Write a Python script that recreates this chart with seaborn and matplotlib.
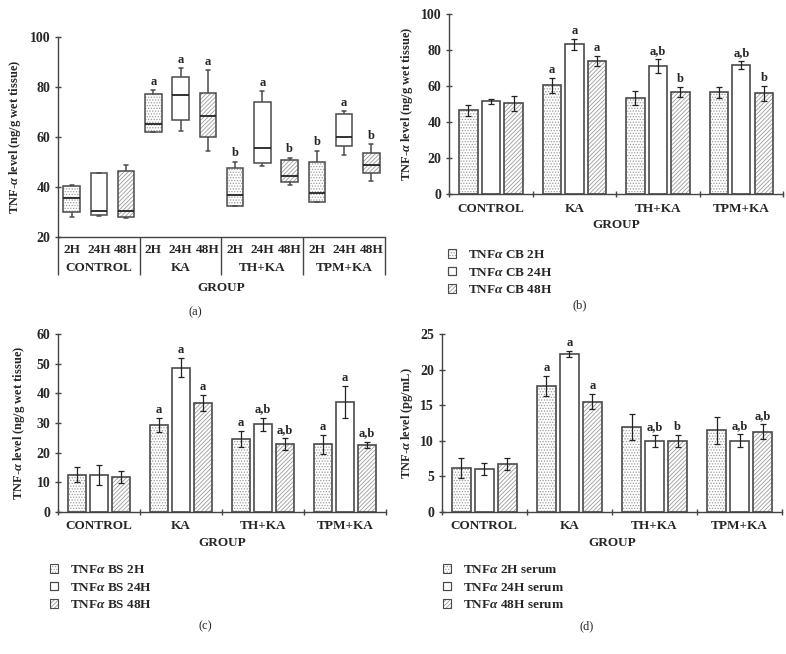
import numpy as np
import pandas as pd
import matplotlib
matplotlib.use("Agg")
import matplotlib.pyplot as plt
import matplotlib.patches as mpatches
import matplotlib.transforms as mtransforms
import seaborn as sns

groups = ["CONTROL", "KA", "TH+KA", "TPM+KA"]
times = ["2H", "24H", "48H"]
hatches = ["......", "", "////////"]

# (a) box plot values, order: group-major, time-minor
a_low = [28.3, 28.4, 27.6, 62.3, 62.7, 54.7, 32.5, 48.4, 40.8, 34.0, 52.9, 42.5]
a_q1 = [30.1, 28.8, 28.3, 62.3, 66.9, 60.0, 32.7, 49.6, 42.3, 34.0, 56.4, 45.6]
a_med = [35.9, 30.4, 30.4, 65.3, 76.8, 68.5, 36.8, 55.6, 44.7, 37.6, 60.0, 48.8]
a_q3 = [40.4, 45.6, 46.7, 77.2, 84.3, 77.7, 47.6, 74.1, 50.8, 50.0, 69.2, 53.6]
a_high = [40.8, 45.9, 48.8, 78.8, 87.6, 86.8, 50.3, 78.4, 51.9, 54.7, 70.5, 57.2]
a_sig = ["", "", "", "a", "a", "a", "b", "a", "b", "b", "a", "b"]

# (b) cerebellum
b_mean = [46.6, 51.6, 50.5, 60.4, 83.2, 74.1, 53.6, 71.0, 56.6, 56.6, 71.5, 56.0]
b_err = [3.0, 1.3, 4.2, 4.0, 3.0, 2.7, 3.8, 3.8, 2.9, 3.0, 2.2, 4.0]
b_sig = ["", "", "", "a", "a", "a", "", "a,b", "b", "", "a,b", "b"]

# (c) brain stem
c_mean = [12.6, 12.4, 11.9, 29.4, 48.7, 36.7, 24.5, 29.6, 22.8, 22.8, 37.1, 22.7]
c_err = [2.6, 3.4, 2.0, 2.3, 3.1, 2.7, 2.7, 2.2, 2.0, 3.1, 5.5, 1.0]
c_sig = ["", "", "", "a", "a", "a", "a", "a,b", "a,b", "a", "a", "a,b"]

# (d) serum
d_mean = [6.2, 6.0, 6.8, 17.7, 22.2, 15.5, 11.9, 10.0, 10.0, 11.5, 10.0, 11.3]
d_err = [1.45, 0.85, 0.85, 1.4, 0.4, 1.05, 1.8, 0.8, 0.8, 1.9, 0.9, 1.03]
d_sig = ["", "", "", "a", "a", "a", "", "a,b", "b", "", "a,b", "a,b"]

sns.set_style("ticks")
plt.rcParams["font.family"] = ["Liberation Serif", "DejaVu Serif"]
plt.rcParams["font.weight"] = "bold"
plt.rcParams["axes.labelweight"] = "bold"
plt.rcParams["mathtext.fontset"] = "custom"
plt.rcParams["mathtext.it"] = "Liberation Serif:italic:bold"
plt.rcParams["mathtext.rm"] = "Liberation Serif:bold"
plt.rcParams["hatch.linewidth"] = 0.6

EDGE = "#4a4a4a"
HATCH = "#9c9c9c"
AXC = "#444444"
FS = 9

fig = plt.figure(figsize=(7.86, 6.54), dpi=100)


def texture(ax, patch, hatch, lw):
    # light hatch fill, then a dark outline drawn on the same path
    patch.set_hatch(hatch)
    patch.set_edgecolor(HATCH if hatch else EDGE)
    if hatch:
        patch.set_linewidth(0)
        outline = mpatches.PathPatch(patch.get_path(), fill=False, edgecolor=EDGE,
                                     linewidth=lw, transform=patch.get_transform(),
                                     zorder=patch.get_zorder() + 0.01)
        ax.add_patch(outline)


def style_axis(ax, yticks, ylabel, label_x):
    sns.despine(ax=ax)
    for s in ["left", "bottom"]:
        ax.spines[s].set_color(AXC)
        ax.spines[s].set_linewidth(1.0)
    ax.set_yticks(yticks)
    ax.set_ylim(yticks[0], yticks[-1])
    ax.tick_params(axis="y", direction="inout", length=5, width=1, color=AXC,
                   labelsize=FS + 1, pad=3)
    for t in ax.get_yticklabels():
        t.set_fontweight("bold")
    ax.set_ylabel(ylabel, fontsize=FS, fontweight="bold")
    ax.yaxis.set_label_coords(label_x, 0.5)


# ---------- (a) box plot ----------
slots = [f"{g} {t}" for g in groups for t in times]
rows = []
for i, s in enumerate(slots):
    for v in [a_low[i], a_q1[i], a_med[i], a_q3[i], a_high[i]]:
        rows.append({"slot": s, "value": v})
df_a = pd.DataFrame(rows)

ax = fig.add_axes([0.0738, 0.6372, 0.416, 0.3058])
sns.boxplot(data=df_a, x="slot", y="value", order=slots, whis=np.inf,
            width=0.6, color="white", linecolor=EDGE, linewidth=1.1,
            medianprops=dict(color="#222222", linewidth=1.3),
            capwidths=0.15, ax=ax)
for i, p in enumerate(list(ax.patches)):
    texture(ax, p, hatches[i % 3], 1.1)
style_axis(ax, [20, 40, 60, 80, 100], r"TNF-$\alpha$ level (ng/g wet tissue)", -0.107)
ax.set_xlim(-0.5, len(slots) - 0.5)
ax.set_xticks(range(len(slots)))
ax.set_xticklabels(times * len(groups), fontsize=FS + 0.5, fontweight="bold")
ax.set_xticks(np.arange(-0.5, len(slots), 3), minor=True)
ax.tick_params(axis="x", which="major", length=0, pad=5)
ax.tick_params(axis="x", which="minor", direction="out", length=27, width=1, color=AXC)
ax.set_xlabel("")
trans = mtransforms.blended_transform_factory(ax.transData, ax.transAxes)
for gi, g in enumerate(groups):
    ax.text(gi * 3 + 1, -0.155, g, transform=trans, ha="center", va="center",
            fontsize=FS + 0.5, fontweight="bold")
ax.text(0.5, -0.255, "GROUP", transform=ax.transAxes, ha="center", va="center",
        fontsize=FS + 0.5, fontweight="bold")
for i, s in enumerate(a_sig):
    if s:
        ax.annotate(s, (i, a_high[i]), xytext=(0, 1.5), textcoords="offset points",
                    ha="center", va="bottom", fontsize=FS, fontweight="bold")
fig.text(195 / 786, 1 - 312 / 654, "(a)", ha="center", va="center", fontsize=FS,
         fontweight="normal")


# ---------- bar panels ----------
def bar_panel(rect, means, errs, sigs, yticks, ylabel, label_x, legend_labels,
              legend_xy, tag, tag_xy):
    df = pd.DataFrame({
        "group": [g for g in groups for _ in times],
        "time": times * len(groups),
        "mean": means,
        "err": errs,
    })
    ax = fig.add_axes(rect)
    sns.barplot(data=df, x="group", y="mean", hue="time", order=groups,
                hue_order=times, palette={t: "white" for t in times},
                edgecolor=EDGE, linewidth=1.2, width=0.81, gap=0.185,
                errorbar=None, legend=False, ax=ax)
    bar_conts = list(ax.containers)
    for hi, cont in enumerate(bar_conts):
        for gi, bar in enumerate(cont):
            texture(ax, bar, hatches[hi], 1.2)
            k = gi * len(times) + hi
            cx = bar.get_x() + bar.get_width() / 2
            top = bar.get_height()
            ax.errorbar(cx, top, yerr=errs[k], color="#222222", elinewidth=0.9,
                        capsize=2.2, capthick=0.9, zorder=5)
            if sigs[k]:
                ax.annotate(sigs[k], (cx, top + errs[k]), xytext=(0, 1.5),
                            textcoords="offset points", ha="center", va="bottom",
                            fontsize=FS, fontweight="bold")
    style_axis(ax, yticks, ylabel, label_x)
    ax.set_xlim(-0.5, len(groups) - 0.5)
    ax.set_xticks(range(len(groups)))
    ax.set_xticklabels(groups, fontsize=FS + 0.5, fontweight="bold")
    ax.set_xticks(np.arange(-0.5, len(groups), 1), minor=True)
    ax.tick_params(axis="x", which="major", length=0, pad=6)
    ax.tick_params(axis="x", which="minor", direction="inout", length=5, width=1,
                   color=AXC)
    ax.set_xlabel("GROUP", fontsize=FS + 0.5, fontweight="bold", labelpad=3)
    handles = []
    for h in hatches:
        fill = mpatches.Patch(facecolor="white", edgecolor=HATCH if h else EDGE,
                              hatch=h, linewidth=0 if h else 0.8)
        line = mpatches.Patch(fill=False, edgecolor=EDGE, linewidth=0.8)
        handles.append((fill, line))
    fig.legend(handles, legend_labels, loc="upper left",
               bbox_to_anchor=(legend_xy[0] / 786, 1 - legend_xy[1] / 654),
               frameon=False, handlelength=0.6, handleheight=0.6,
               handletextpad=0.9, labelspacing=0.42, borderpad=0,
               borderaxespad=0, prop={"size": FS + 0.5, "weight": "bold"})
    fig.text(tag_xy[0] / 786, 1 - tag_xy[1] / 654, tag, ha="center", va="center",
             fontsize=FS, fontweight="normal")


bar_panel([0.5716, 0.7029, 0.4246, 0.2757], b_mean, b_err, b_sig,
          [0, 20, 40, 60, 80, 100], r"TNF-$\alpha$ level (ng/g wet tissue)", -0.102,
          [r"TNF$\alpha$ CB 2H", r"TNF$\alpha$ CB 24H", r"TNF$\alpha$ CB 48H"],
          (448, 249), "(b)", (580, 305))
bar_panel([0.0742, 0.2171, 0.4165, 0.2722], c_mean, c_err, c_sig,
          [0, 10, 20, 30, 40, 50, 60], r"TNF-$\alpha$ level (ng/g wet tissue)", -0.095,
          [r"TNF$\alpha$ BS 2H", r"TNF$\alpha$ BS 24H", r"TNF$\alpha$ BS 48H"],
          (50, 564), "(c)", (205, 626))
bar_panel([0.5620, 0.2171, 0.4333, 0.2722], d_mean, d_err, d_sig,
          [0, 5, 10, 15, 20, 25], r"TNF-$\alpha$ level (pg/mL)", -0.079,
          [r"TNF$\alpha$ 2H serum", r"TNF$\alpha$ 24H serum", r"TNF$\alpha$ 48H serum"],
          (443, 564), "(d)", (587, 626))

fig.savefig("out.png", dpi=100)
